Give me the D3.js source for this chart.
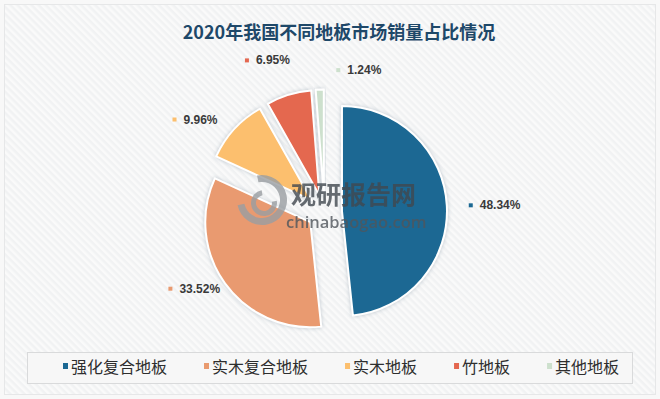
<!DOCTYPE html>
<html>
<head>
<meta charset="utf-8">
<script src="https://cdn.jsdelivr.net/npm/d3@7"></script>
<style>
  body { margin: 0; background: #fff; }
  svg { display: block; }
</style>
</head>
<body>
<div id="chart"></div>
<script>
// Data
var categories = ["强化复合地板", "实木复合地板", "实木地板", "竹地板", "其他地板"];
var shares     = [48.34, 33.52, 9.96, 6.95, 1.24];
var labels     = ["48.34%", "33.52%", "9.96%", "6.95%", "1.24%"];
var colors     = ["#1b6893", "#e99a6f", "#fcbf6e", "#e4674f", "#cde0cd"];

// label nudges (layout only, Excel moved the small ones around)
var labelNudge = [[3, 0], [6, -10], [-6, 6], [-8, -12], [41, 4]];

// Parameters
var width   = 660,
    height  = 399,
    cx      = 324.5,
    cy      = 212,
    radius  = 105,
    explode = 17.5,
    labelRadius = 140;

var font = "'Noto Sans CJK SC', 'Noto Sans', sans-serif";

var svg = d3.select("#chart")
    .append("svg")
    .attr("width", width)
    .attr("height", height);

var defs = svg.append("defs");

// striped background
var pat = defs.append("pattern")
    .attr("id", "stripes")
    .attr("width", 5)
    .attr("height", 5)
    .attr("patternUnits", "userSpaceOnUse")
    .attr("patternTransform", "rotate(-45)");
pat.append("rect").attr("width", 5).attr("height", 5).attr("fill", "#f1f2f3");
pat.append("rect").attr("width", 2.5).attr("height", 5).attr("fill", "#fafafa");

var shadow = defs.append("filter")
    .attr("id", "glow")
    .attr("x", "-20%").attr("y", "-20%")
    .attr("width", "140%").attr("height", "140%");
shadow.append("feDropShadow")
    .attr("dx", 0).attr("dy", 0)
    .attr("stdDeviation", 2)
    .attr("flood-color", "#8d9caa")
    .attr("flood-opacity", 0.55);

svg.append("rect")
    .attr("width", width).attr("height", height)
    .attr("fill", "#f8f8f8");
svg.append("rect")
    .attr("x", 4.5).attr("y", 4.5)
    .attr("width", width - 9).attr("height", height - 9)
    .attr("fill", "url(#stripes)")
    .attr("stroke", "#e6e7e8");

// Title
svg.append("text")
    .attr("x", 339)
    .attr("y", 39)
    .attr("text-anchor", "middle")
    .style("font-family", font)
    .style("font-size", "18px")
    .style("font-weight", "bold")
    .attr("fill", "#1e4869")
    .text("2020年我国不同地板市场销量占比情况");

// Pie
var pie = d3.pie().sort(null).value(function(d) { return d; });
var arcs = pie(shares);

var arc = d3.arc().innerRadius(0).outerRadius(radius);

function midAngle(d) { return (d.startAngle + d.endAngle) / 2; }

var g = svg.append("g").attr("transform", "translate(" + cx + "," + cy + ")");

g.selectAll("path")
    .data(arcs)
    .enter()
    .append("path")
    .attr("d", arc)
    .attr("transform", function(d) {
        var a = midAngle(d);
        return "translate(" + (Math.sin(a) * explode) + "," + (-Math.cos(a) * explode) + ")";
    })
    .attr("fill", function(d, i) { return colors[i]; })
    .attr("stroke", "#ffffff")
    .attr("stroke-width", 2)
    .attr("stroke-linejoin", "round")
    .attr("filter", "url(#glow)");

// Watermark
var wm = svg.append("g").attr("opacity", 0.8);
wm.append("path")
    .attr("d", d3.arc().innerRadius(18).outerRadius(25).startAngle(-0.2).endAngle(4.5)())
    .attr("transform", "translate(262,200)")
    .attr("fill", "#9a9ea2");
wm.append("path")
    .attr("d", d3.arc().innerRadius(8).outerRadius(13).startAngle(1.4).endAngle(6.1)())
    .attr("transform", "translate(264,203)")
    .attr("fill", "#9a9ea2");
wm.append("text")
    .attr("x", 291).attr("y", 204)
    .style("font-family", font)
    .style("font-size", "25px")
    .style("font-weight", "bold")
    .attr("fill", "#41484f")
    .text("观研报告网");
wm.append("text")
    .attr("x", 286).attr("y", 228)
    .style("font-family", "'Open Sans', 'DejaVu Sans', sans-serif")
    .style("font-size", "16.5px")
    .style("font-weight", "600")
    .attr("fill", "#50565c")
    .text("chinabaogao.com");

// Data labels
var labelArc = d3.arc().innerRadius(labelRadius).outerRadius(labelRadius);
var boxW = 55, boxH = 14;

arcs.forEach(function(d, i) {
    var a = midAngle(d);
    var p = labelArc.centroid(d);
    var lx = cx + p[0] + Math.sin(a) * boxW / 2 + labelNudge[i][0];
    var ly = cy + p[1] - Math.cos(a) * boxH / 2 + labelNudge[i][1];

    var lg = svg.append("g");
    lg.append("rect")
        .attr("x", 0).attr("y", -5)
        .attr("width", 4).attr("height", 4)
        .attr("fill", colors[i]);
    lg.append("text")
        .attr("x", 11).attr("y", 1)
        .style("font-family", "'Liberation Sans', Arial, sans-serif")
        .style("font-size", "12px")
        .style("font-weight", "bold")
        .attr("fill", "#3a3a3a")
        .text(labels[i]);
    var bb = lg.node().getBBox();
    lg.attr("transform", "translate(" + (lx - bb.width / 2) + "," + (ly + 4) + ")");
});

// Legend
svg.append("rect")
    .attr("x", 27.5).attr("y", 352.5)
    .attr("width", 605).attr("height", 31)
    .attr("fill", "#f7f7f7")
    .attr("stroke", "#d9dadb");

var lx0 = 63;
categories.forEach(function(c, i) {
    var item = svg.append("g").attr("transform", "translate(" + lx0 + ",0)");
    item.append("rect")
        .attr("x", 0).attr("y", 363)
        .attr("width", 5).attr("height", 6)
        .attr("fill", colors[i]);
    var t = item.append("text")
        .attr("x", 8).attr("y", 373)
        .style("font-family", font)
        .style("font-size", "16px")
        .attr("fill", "#2e2e2e")
        .text(c);
    lx0 += 8 + t.node().getComputedTextLength() + 37;
});
</script>
</body>
</html>
